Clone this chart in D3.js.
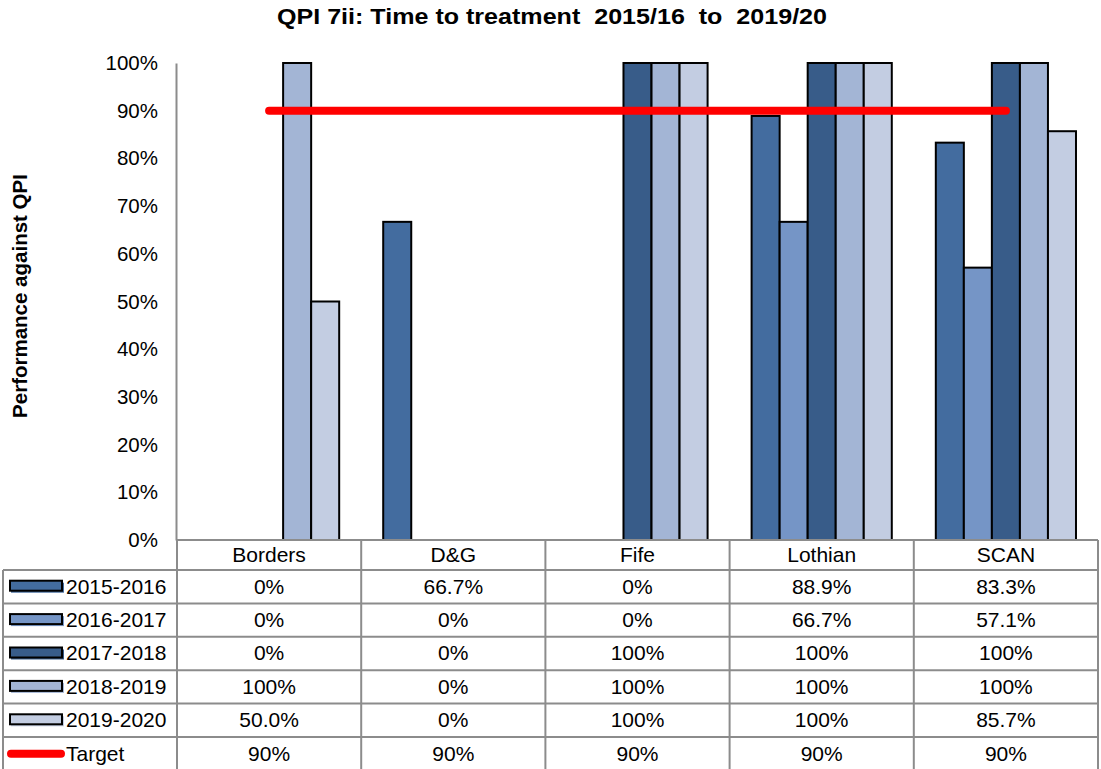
<!DOCTYPE html>
<html>
<head>
<meta charset="utf-8">
<script src="https://cdn.jsdelivr.net/npm/d3@7"></script>
<style>
  html, body { margin: 0; padding: 0; background: #fff; }
  svg text { font-family: "Liberation Sans", Arial, sans-serif; fill: #000; }
</style>
</head>
<body>
<svg id="chart" width="1101" height="769"></svg>
<script>
// Health boards shown along the x axis
const categories = ["Borders", "D&G", "Fife", "Lothian", "SCAN"];
// Reporting years (one bar per year in each board)
const seriesNames = ["2015-2016", "2016-2017", "2017-2018", "2018-2019", "2019-2020"];
// Percentage performance per year, in board order
const v2015 = [0, 66.7, 0, 88.9, 83.3];
const v2016 = [0, 0, 0, 66.7, 57.1];
const v2017 = [0, 0, 100, 100, 100];
const v2018 = [100, 0, 100, 100, 100];
const v2019 = [50.0, 0, 100, 100, 85.7];
const target = [90, 90, 90, 90, 90];
// Table labels as printed under each bar group
const lbl2015 = ["0%", "66.7%", "0%", "88.9%", "83.3%"];
const lbl2016 = ["0%", "0%", "0%", "66.7%", "57.1%"];
const lbl2017 = ["0%", "0%", "100%", "100%", "100%"];
const lbl2018 = ["100%", "0%", "100%", "100%", "100%"];
const lbl2019 = ["50.0%", "0%", "100%", "100%", "85.7%"];
const lblTarget = ["90%", "90%", "90%", "90%", "90%"];
const yTicks = [0, 10, 20, 30, 40, 50, 60, 70, 80, 90, 100];

const seriesValues = [v2015, v2016, v2017, v2018, v2019];
const seriesLabels = [lbl2015, lbl2016, lbl2017, lbl2018, lbl2019];
const colors = ["#436c9f", "#7595c6", "#385c89", "#a3b5d5", "#c3cde2"];

const svg = d3.select("#chart");
const plotLeft = 177, plotRight = 1098, plotTop = 63, plotBottom = 540;
const gridColor = "#8c8c8c";
const bodySize = 21;

const x = d3.scaleBand().domain(categories).range([plotLeft, plotRight]).paddingInner(0).paddingOuter(0);
const xInner = d3.scaleBand().domain(seriesNames).range([0, x.bandwidth()])
  .paddingInner(0).paddingOuter(0.785);
const y = d3.scaleLinear().domain([0, 100]).range([plotBottom, plotTop]);

// Title
svg.append("text")
  .attr("x", 552).attr("y", 24)
  .attr("text-anchor", "middle")
  .attr("font-size", 22).attr("font-weight", "bold")
  .attr("textLength", 550).attr("lengthAdjust", "spacingAndGlyphs")
  .style("white-space", "pre")
  .text("QPI 7ii: Time to treatment  2015/16  to  2019/20");

// Y axis title
svg.append("text")
  .attr("transform", "translate(27,296) rotate(-90)")
  .attr("text-anchor", "middle")
  .attr("font-size", 20.5).attr("font-weight", "bold")
  .text("Performance against QPI");

// Y axis
const yAxis = d3.axisLeft(y).tickValues(yTicks).tickSize(0).tickPadding(18)
  .tickFormat(d => d + "%");
const gy = svg.append("g").attr("transform", `translate(${plotLeft - 1},0)`).call(yAxis);
gy.select(".domain").attr("stroke", gridColor).attr("stroke-width", 2);
gy.selectAll("text").attr("font-size", 20.5).attr("font-family", "Liberation Sans, Arial, sans-serif").attr("fill", "#000");

// Bars
const groups = svg.append("g").selectAll("g")
  .data(categories).join("g")
  .attr("transform", d => `translate(${x(d)},0)`);
groups.selectAll("rect")
  .data((c, ci) => seriesNames.map((s, si) => ({ s, si, v: seriesValues[si][ci] })).filter(d => d.v > 0))
  .join("rect")
  .attr("x", d => xInner(d.s))
  .attr("y", d => y(d.v))
  .attr("width", xInner.bandwidth())
  .attr("height", d => y(0) - y(d.v))
  .attr("fill", d => colors[d.si])
  .attr("stroke", "#000").attr("stroke-width", 2);

// Target line across board centres
const line = d3.line().x((d, i) => x(categories[i]) + x.bandwidth() / 2).y(d => y(d));
svg.append("path")
  .datum(target)
  .attr("d", line)
  .attr("fill", "none").attr("stroke", "#ff0000")
  .attr("stroke-width", 8).attr("stroke-linecap", "round");

// Data table
const headerTop = plotBottom, headerBottom = 570, rowH = 33.4;
const rows = seriesNames.map((s, i) => ({ name: s, labels: seriesLabels[i], color: colors[i], kind: "bar" }))
  .concat([{ name: "Target", labels: lblTarget, color: "#ff0000", kind: "line" }]);
const tableBottom = headerBottom + rowH * rows.length;
const tbl = svg.append("g");

// Header: board names
tbl.selectAll("text.cat").data(categories).join("text")
  .attr("class", "cat")
  .attr("x", d => x(d) + x.bandwidth() / 2)
  .attr("y", (headerTop + headerBottom) / 2 + 7)
  .attr("text-anchor", "middle").attr("font-size", bodySize)
  .text(d => d);

// Grid lines
const vLines = categories.map(c => x(c)).concat([plotRight]);
tbl.selectAll("line.v").data(vLines).join("line")
  .attr("class", "v")
  .attr("x1", d => d).attr("x2", d => d)
  .attr("y1", headerTop).attr("y2", tableBottom)
  .attr("stroke", gridColor).attr("stroke-width", 2);
tbl.append("line").attr("x1", plotLeft).attr("x2", plotRight).attr("y1", headerTop).attr("y2", headerTop)
  .attr("stroke", gridColor).attr("stroke-width", 2);
tbl.append("line").attr("x1", 3).attr("x2", 3).attr("y1", headerBottom).attr("y2", tableBottom)
  .attr("stroke", gridColor).attr("stroke-width", 2);
tbl.selectAll("line.h").data(d3.range(rows.length + 1)).join("line")
  .attr("class", "h")
  .attr("x1", 3).attr("x2", plotRight)
  .attr("y1", i => headerBottom + i * rowH).attr("y2", i => headerBottom + i * rowH)
  .attr("stroke", gridColor).attr("stroke-width", 2);

// Rows
const rowG = tbl.selectAll("g.row").data(rows).join("g")
  .attr("class", "row")
  .attr("transform", (d, i) => `translate(0,${headerBottom + i * rowH})`);
rowG.filter(d => d.kind === "bar").append("rect")
  .attr("x", 11).attr("y", rowH / 2 - 4).attr("width", 53).attr("height", 10)
  .attr("fill", d => d.color);
rowG.filter(d => d.kind === "bar").append("rect")
  .attr("x", 10).attr("y", rowH / 2 - 6).attr("width", 52).attr("height", 10)
  .attr("fill", d => d.color).attr("stroke", "#000").attr("stroke-width", 2);
rowG.filter(d => d.kind === "line").append("line")
  .attr("x1", 11).attr("x2", 61).attr("y1", rowH / 2).attr("y2", rowH / 2)
  .attr("stroke", "#ff0000").attr("stroke-width", 8).attr("stroke-linecap", "round");
rowG.append("text")
  .attr("x", 66).attr("y", rowH / 2 + 7)
  .attr("font-size", bodySize)
  .text(d => d.name);
rowG.selectAll("text.val").data(d => d.labels).join("text")
  .attr("class", "val")
  .attr("x", (d, i) => x(categories[i]) + x.bandwidth() / 2)
  .attr("y", rowH / 2 + 7)
  .attr("text-anchor", "middle").attr("font-size", bodySize)
  .text(d => d);
</script>
</body>
</html>
